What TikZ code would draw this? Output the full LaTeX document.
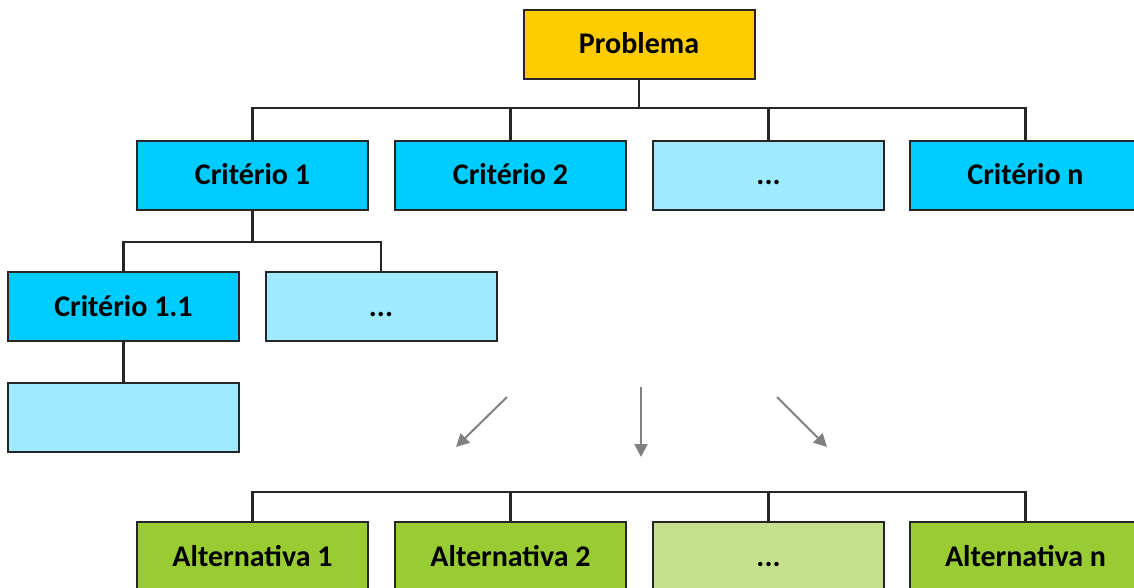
\documentclass[tikz,border=0pt]{standalone}
\usepackage{fontspec}
\setmainfont{Carlito}
\usetikzlibrary{arrows.meta}
\definecolor{probgold}{HTML}{FFCC00}
\definecolor{critblue}{HTML}{00CCFF}
\definecolor{critpale}{HTML}{A0EAFF}
\definecolor{altgreen}{HTML}{99CC33}
\definecolor{altpale}{HTML}{C4E08C}
\definecolor{hintgray}{HTML}{808080}
\tikzset{
  box/.style={draw=black!85, line width=2pt, minimum width=231pt, minimum height=69pt,
    inner sep=0pt, text height=20pt, text depth=1pt,
    font=\fontsize{30}{36}\selectfont\bfseries},
  link/.style={draw=black!85, line width=2.2pt},
  hint/.style={draw=hintgray, line width=2pt, -{Triangle[length=13pt,width=13pt]}},
}
\begin{document}
\begin{tikzpicture}[x=1pt, y=-1pt]
  \useasboundingbox (0,0) rectangle (1134,588);
  \clip (0,0) rectangle (1134,588);
  % top
  \node[box, fill=probgold] (prob) at (639,44.5) {Problema};
  % criteria
  \node[box, fill=critblue] (crit1) at (252.5,175.5) {Critério 1};
  \node[box, fill=critblue] (crit2) at (510.5,175.5) {Critério 2};
  \node[box, fill=critpale] (critdots) at (768.5,175.5) {...};
  \node[box, fill=critblue] (critn) at (1025.5,175.5) {Critério n};
  \node[box, fill=critblue] (crit11) at (123.5,306.5) {Critério 1.1};
  \node[box, fill=critpale] (critsub) at (381,306.5) {...};
  \node[box, fill=critpale] (critleaf) at (123.5,417.5) {};
  % alternatives
  \node[box, fill=altgreen] (alt1) at (252.5,556.5) {Alternativa 1};
  \node[box, fill=altgreen] (alt2) at (510.5,556.5) {Alternativa 2};
  \node[box, fill=altpale] (altdots) at (768.5,556.5) {...};
  \node[box, fill=altgreen] (altn) at (1025.5,556.5) {Alternativa n};

  \coordinate (topbus) at (639,108);
  \coordinate (subbus) at (252.5,242);
  \coordinate (altbus) at (639,492);
  \draw[link] (prob.south) -- (topbus);
  \draw[link] (crit1.north) |- (topbus) -| (critn.north);
  \draw[link] (crit2.north) |- (topbus);
  \draw[link] (critdots.north) |- (topbus);
  \draw[link] (crit1.south) -- (subbus);
  \draw[link] (crit11.north) |- (subbus) -| (critsub.north);
  \draw[link] (crit11.south) -- (critleaf.north);
  \draw[link] (alt1.north) |- (altbus) -| (altn.north);
  \draw[link] (alt2.north) |- (altbus);
  \draw[link] (altdots.north) |- (altbus);

  % arrows
  \coordinate (hint1s) at (507,397);
  \coordinate (hint1e) at (456,447);
  \coordinate (hint2s) at (641,387);
  \coordinate (hint2e) at (641,457);
  \coordinate (hint3s) at (777,397);
  \coordinate (hint3e) at (827,447);
  \draw[hint] (hint1s) -- (hint1e);
  \draw[hint] (hint2s) -- (hint2e);
  \draw[hint] (hint3s) -- (hint3e);
\end{tikzpicture}
\end{document}
